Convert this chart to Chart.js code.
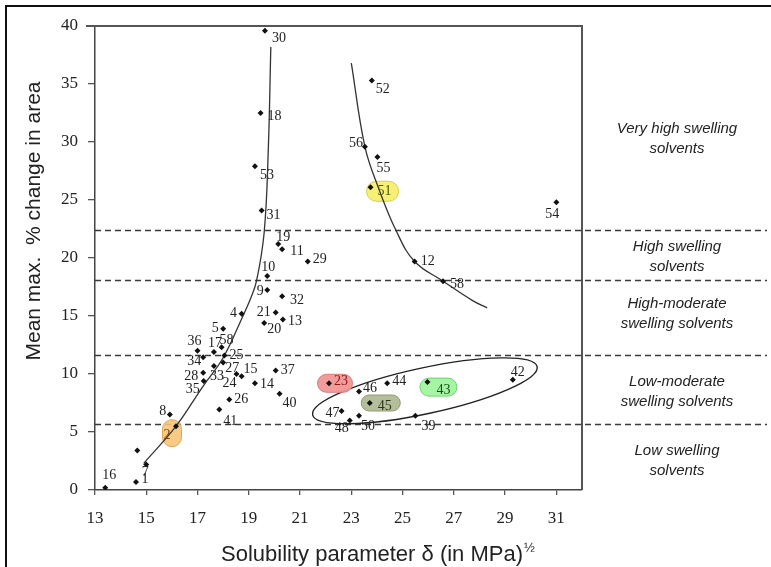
<!DOCTYPE html>
<html>
<head>
<meta charset="utf-8">
<script src="https://cdn.jsdelivr.net/npm/chart.js@4.4.1/dist/chart.umd.min.js"></script>
<style>
  html, body { margin: 0; padding: 0; background: #fff; }
  #wrap { width: 771px; height: 567px; position: relative; }
</style>
</head>
<body>
<div id="wrap"><canvas id="chart" width="771" height="567"></canvas></div>
<script>
// solvent numbers, solubility parameter and mean max % change in area
const SOLVENT_IDS = ['1', '7', '', '16', '8', '2', '4', '5', '36', '17', '58', '25', '34', '27', '33', '28', '35', '24', '15', '14', '26', '41',
  '10', '9', '32', '19', '11', '29', '30', '18', '53', '31', '21', '13', '20', '37', '40',
  '52', '56', '55', '51', '12', '58', '54',
  '23', '46', '44', '43', '42', '45', '47', '48', '50', '39'];
const SOLVENT_DELTA = [14.6, 15.0, 14.65, 13.4, 15.92, 16.16, 18.72, 18.0, 17.0, 17.64, 17.94, 18.05, 17.22, 18.0, 17.64, 17.22, 17.24, 18.52, 18.72, 19.24, 18.24, 17.85,
  19.72, 19.72, 20.3, 20.15, 20.3, 21.3, 19.63, 19.46, 19.24, 19.5, 20.05, 20.33, 19.6, 20.05, 20.2,
  23.8, 23.53, 24.02, 23.75, 25.47, 26.58, 31.0,
  22.13, 23.3, 24.4, 25.97, 29.3, 23.72, 22.62, 22.94, 23.3, 25.5];
const SOLVENT_SWELL = [0.7, 2.2, 3.4, 0.2, 6.5, 5.5, 15.2, 13.9, 12.0, 11.9, 12.3, 11.6, 11.45, 11.0, 10.7, 10.1, 9.4, 10.0, 9.8, 9.2, 7.8, 6.95,
  18.45, 17.25, 16.7, 21.2, 20.75, 19.7, 39.6, 32.5, 27.9, 24.1, 15.3, 14.7, 14.4, 10.3, 8.3,
  35.3, 29.6, 28.7, 26.1, 19.7, 18.0, 24.8,
  9.2, 8.5, 9.2, 9.3, 9.5, 7.5, 6.8, 6.0, 6.4, 6.4];

// hand-drawn trend curves
const CURVE_LEFT_X = [14.9, 16.16, 17.2, 18.0, 18.75, 19.05, 19.3, 19.6, 19.76, 19.86];
const CURVE_LEFT_Y = [2.3, 5.5, 8.9, 11.4, 14.9, 16.4, 18.0, 22.2, 29.3, 38.2];
const CURVE_RIGHT_X = [23.0, 23.53, 24.05, 24.76, 25.47, 26.58, 27.75, 28.3];
const CURVE_RIGHT_Y = [36.8, 29.6, 26.1, 22.3, 19.7, 18.0, 16.3, 15.7];

// ends of the ellipse drawn round the low-moderate group
const ELLIPSE_X = [21.49, 30.25];
const ELLIPSE_Y = [6.47, 10.63];

// swelling classes
const BAND_LIMITS = [22.4, 18.1, 11.6, 5.7];
const BAND_NAMES = [
  ['Very high swelling', 'solvents'],
  ['High swelling', 'solvents'],
  ['High-moderate', 'swelling solvents'],
  ['Low-moderate', 'swelling solvents'],
  ['Low swelling', 'solvents']
];
const BAND_TEXT_AT = [30.3, 20.1, 15.2, 8.5, 2.5];

const X_TICKS = [13, 15, 17, 19, 21, 23, 25, 27, 29, 31];

// label placement relative to its dot, in px (same order as SOLVENT_IDS)
const LABEL_OFFSET = [[9, -3], [-1, 8], [0, 0], [4, -12], [-7, -3], [-9, 9], [-8, 0], [-8, 0], [-3, -9], [1, -9], [5, -7], [12, 0], [-9, 4], [9, 6], [3, 10], [-12, 3], [-11, 8], [-7, 9], [9, -7], [12, 1], [12, 0], [11, 12],
  [1, -9], [-7, 1], [15, 4], [5, -7], [15, 2], [12, -2], [14, 8], [14, 3], [12, 9], [12, 5], [-12, 0], [12, 2], [10, 6], [12, 0], [10, 10],
  [11, 9], [-9, -3], [6, 11], [14, 4], [13, 0], [14, 3], [-4, 12],
  [12, -2], [11, -3], [12, -2], [16, 8], [5, -7], [15, 3], [-9, 2], [-8, 8], [9, 11], [13, 11]];

// coloured pills behind some labels: index -> style
const PILLS = {
  5: { fill: 'rgba(246,196,120,0.9)', stroke: '#e0a456', dx: -4, dy: 7, w: 19, h: 27, text: '#7a4a10' },
  40: { fill: 'rgba(246,240,110,0.95)', stroke: '#d6cc4c', dx: 12, dy: 4, w: 32, h: 20, text: '#555010' },
  44: { fill: 'rgba(240,150,150,0.95)', stroke: '#dd7b7b', dx: 6, dy: 0, w: 35, h: 18, text: '#8b1a1a' },
  47: { fill: 'rgba(160,244,160,0.95)', stroke: '#70d070', dx: 11, dy: 5, w: 37, h: 18, text: '#145214' },
  49: { fill: 'rgba(176,186,150,0.95)', stroke: '#8e9a76', dx: 11, dy: 0, w: 39, h: 16, text: '#2c3318' }
};

function pts(xs, ys) {
  return xs.map((v, i) => ({ x: v, y: ys[i] }));
}

function pill(ctx, cx, cy, w, h) {
  const r = Math.min(w, h) / 2;
  ctx.beginPath();
  ctx.roundRect(cx - w / 2, cy - h / 2, w, h, r);
}

const overlay = {
  id: 'overlay',
  beforeDatasetsDraw(chart) {
    const { ctx, chartArea: a, scales: { x, y } } = chart;
    ctx.save();

    // dashed class limits, running past the frame
    ctx.strokeStyle = '#3a3a3a';
    ctx.lineWidth = 1.3;
    ctx.setLineDash([6, 4]);
    BAND_LIMITS.forEach(v => {
      const py = Math.round(y.getPixelForValue(v)) + 0.5;
      ctx.beginPath();
      ctx.moveTo(a.left, py);
      ctx.lineTo(chart.width - 4, py);
      ctx.stroke();
    });
    ctx.setLineDash([]);

    // ellipse
    const x1 = x.getPixelForValue(ELLIPSE_X[0]), y1 = y.getPixelForValue(ELLIPSE_Y[0]);
    const x2 = x.getPixelForValue(ELLIPSE_X[1]), y2 = y.getPixelForValue(ELLIPSE_Y[1]);
    const half = Math.hypot(x2 - x1, y2 - y1) / 2;
    ctx.strokeStyle = '#222';
    ctx.lineWidth = 1.4;
    ctx.beginPath();
    ctx.ellipse((x1 + x2) / 2, (y1 + y2) / 2, half, 23, Math.atan2(y2 - y1, x2 - x1), 0, Math.PI * 2);
    ctx.stroke();

    // pills
    Object.keys(PILLS).forEach(k => {
      const i = +k, p = PILLS[k];
      const px = x.getPixelForValue(SOLVENT_DELTA[i]);
      const py = y.getPixelForValue(SOLVENT_SWELL[i]);
      pill(ctx, px + p.dx, py + p.dy, p.w, p.h);
      ctx.fillStyle = p.fill;
      ctx.fill();
      ctx.strokeStyle = p.stroke;
      ctx.lineWidth = 1;
      ctx.stroke();
    });
    ctx.restore();
  },
  afterDatasetsDraw(chart) {
    const { ctx, scales: { x, y } } = chart;
    ctx.save();
    ctx.font = '14px "Liberation Serif", "DejaVu Serif", serif';
    ctx.textAlign = 'center';
    ctx.textBaseline = 'middle';
    SOLVENT_IDS.forEach((id, i) => {
      if (!id) return;
      const px = x.getPixelForValue(SOLVENT_DELTA[i]);
      const py = y.getPixelForValue(SOLVENT_SWELL[i]);
      ctx.fillStyle = PILLS[i] ? PILLS[i].text : '#222';
      ctx.fillText(id, px + LABEL_OFFSET[i][0], py + LABEL_OFFSET[i][1]);
    });
    ctx.restore();
  },
  afterDraw(chart) {
    const { ctx, chartArea: a, scales: { y } } = chart;
    ctx.save();

    // top and right frame
    ctx.strokeStyle = '#555';
    ctx.lineWidth = 2;
    ctx.beginPath();
    ctx.moveTo(a.left - 9, a.top);
    ctx.lineTo(a.right, a.top);
    ctx.lineTo(a.right, a.bottom);
    ctx.stroke();

    // outer border
    ctx.strokeStyle = '#111';
    ctx.lineWidth = 2;
    ctx.beginPath();
    ctx.moveTo(6, chart.height);
    ctx.lineTo(6, 6);
    ctx.lineTo(chart.width, 6);
    ctx.stroke();

    // class names
    ctx.fillStyle = '#222';
    ctx.font = 'italic 15px "Liberation Sans", Arial, sans-serif';
    ctx.textAlign = 'center';
    ctx.textBaseline = 'middle';
    BAND_NAMES.forEach((lines, i) => {
      const cy = y.getPixelForValue(BAND_TEXT_AT[i]);
      ctx.fillText(lines[0], 677, cy - 10);
      ctx.fillText(lines[1], 677, cy + 10);
    });

    // axis titles
    ctx.font = '22px "Liberation Sans", Arial, sans-serif';
    ctx.textAlign = 'left';
    const xt = 'Solubility parameter \u03b4 (in MPa)';
    const w = ctx.measureText(xt).width;
    const sx = 377 - (w + 10) / 2;
    ctx.fillText(xt, sx, 555);
    ctx.font = '13px "Liberation Sans", Arial, sans-serif';
    ctx.fillText('\u00bd', sx + w + 1, 548);

    ctx.font = '21px "Liberation Sans", Arial, sans-serif';
    ctx.translate(34, 221);
    ctx.rotate(-Math.PI / 2);
    ctx.textAlign = 'center';
    ctx.fillText('Mean max.  % change in area', 0, 0);
    ctx.restore();
  }
};

const tickFont = { family: '"Liberation Serif", "DejaVu Serif", serif', size: 17 };

new Chart(document.getElementById('chart'), {
  type: 'scatter',
  data: {
    datasets: [
      {
        data: pts(SOLVENT_DELTA, SOLVENT_SWELL),
        pointStyle: 'rectRot',
        pointRadius: 3,
        backgroundColor: '#111',
        borderColor: '#111',
        borderWidth: 0
      },
      {
        data: pts(CURVE_LEFT_X, CURVE_LEFT_Y),
        showLine: true,
        tension: 0.4,
        pointRadius: 0,
        borderColor: '#333',
        borderWidth: 1.3
      },
      {
        data: pts(CURVE_RIGHT_X, CURVE_RIGHT_Y),
        showLine: true,
        tension: 0.4,
        pointRadius: 0,
        borderColor: '#333',
        borderWidth: 1.3
      }
    ]
  },
  options: {
    responsive: false,
    animation: false,
    devicePixelRatio: 1,
    layout: { padding: { top: 26, right: 189, bottom: 0, left: 0 } },
    plugins: { legend: { display: false }, tooltip: { enabled: false } },
    scales: {
      x: {
        type: 'linear',
        min: 13,
        max: 32,
        afterBuildTicks: s => { s.ticks = X_TICKS.map(v => ({ value: v })); },
        afterFit: s => { s.height = 77; },
        grid: { drawOnChartArea: false, tickLength: 5, color: '#555', lineWidth: 1.3 },
        border: { color: '#444', width: 1.5 },
        ticks: { font: tickFont, color: '#222', padding: 13, maxRotation: 0, autoSkip: false }
      },
      y: {
        min: 0,
        max: 40,
        afterFit: s => { s.width = 95; },
        grid: { drawOnChartArea: false, tickLength: 7, color: '#555', lineWidth: 1.3 },
        border: { color: '#444', width: 1.5 },
        ticks: { stepSize: 5, font: tickFont, color: '#222', padding: 10 }
      }
    }
  },
  plugins: [overlay]
});
</script>
</body>
</html>
